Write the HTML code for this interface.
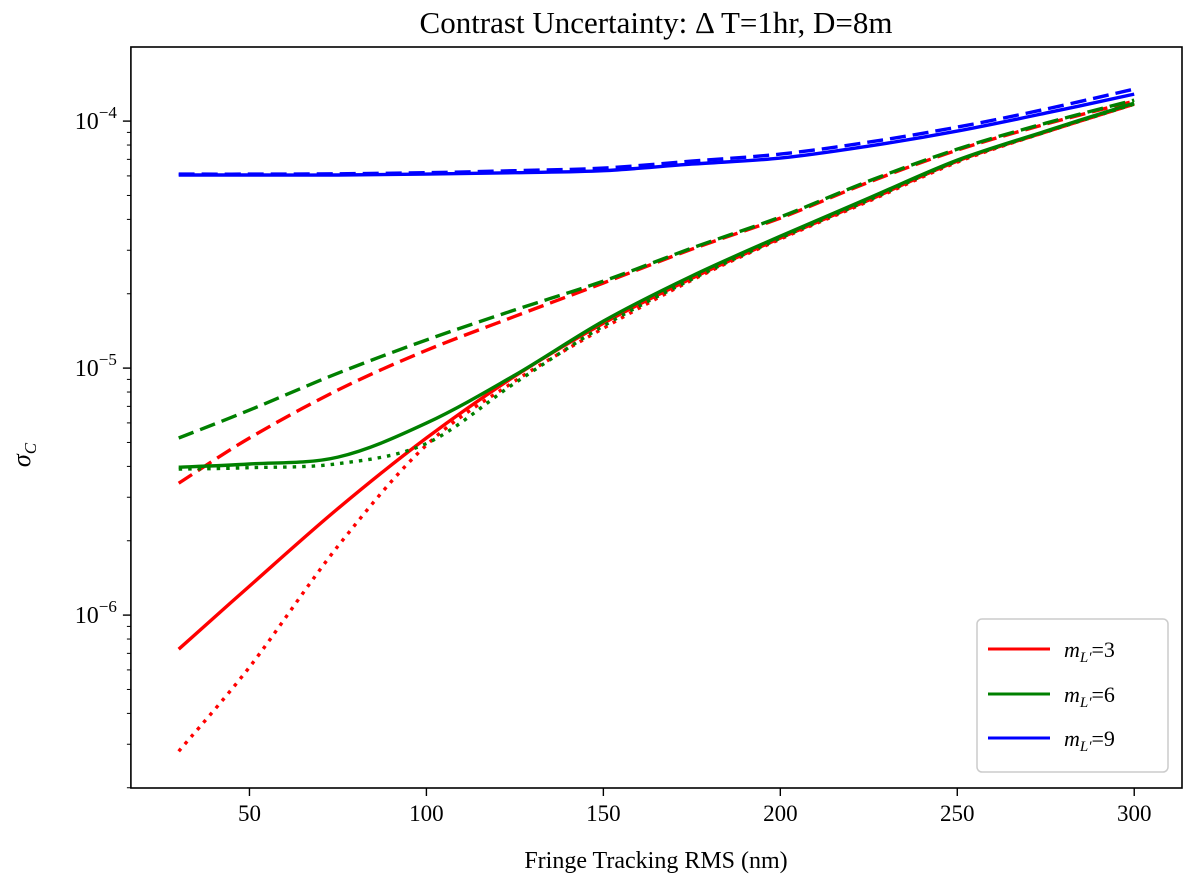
<!DOCTYPE html>
<html><head><meta charset="utf-8"><style>
body{margin:0;background:#fff}
svg text{font-family:"Liberation Serif",serif;fill:#000}
</style></head><body>
<svg id="chart" width="1200" height="887" viewBox="0 0 1200 887" xmlns="http://www.w3.org/2000/svg">
<text x="656" y="33" font-size="31" text-anchor="middle">Contrast Uncertainty: Δ T=1hr, D=8m</text>
<text x="656" y="868" font-size="24" text-anchor="middle">Fringe Tracking RMS (nm)</text>
<text transform="translate(30,455) rotate(-90)" font-size="26" font-style="italic" text-anchor="middle">σ<tspan font-size="17" dy="6">C</tspan></text>
<g id="grid"></g>
<g id="series"></g>
<rect x="130.9" y="47" width="1051.1" height="741" fill="none" stroke="#000" stroke-width="1.6"/>
<g id="axes"></g>
<g>
<rect x="977" y="619" width="191" height="153" rx="5" fill="#fff" stroke="#ccc" stroke-width="1.5"/>
<line x1="988" y1="649" x2="1050" y2="649" stroke="#ff0000" stroke-width="3"/>
<text x="1064" y="657" font-size="22"><tspan font-style="italic">m</tspan><tspan font-size="15" dy="5" font-style="italic">L′</tspan><tspan dy="-5">=3</tspan></text>
<line x1="988" y1="694" x2="1050" y2="694" stroke="#008000" stroke-width="3"/>
<text x="1064" y="702" font-size="22"><tspan font-style="italic">m</tspan><tspan font-size="15" dy="5" font-style="italic">L′</tspan><tspan dy="-5">=6</tspan></text>
<line x1="988" y1="738" x2="1050" y2="738" stroke="#0000ff" stroke-width="3"/>
<text x="1064" y="746" font-size="22"><tspan font-style="italic">m</tspan><tspan font-size="15" dy="5" font-style="italic">L′</tspan><tspan dy="-5">=9</tspan></text>
</g>
</svg>
<script>
const xValues = [30,50,75,100,125,150,175,200,225,250,275,300];
const red_solid  = [7.28e-7,1.31e-6,2.70e-6,5.21e-6,9.28e-6,1.52e-5,2.31e-5,3.36e-5,4.79e-5,6.89e-5,9.03e-5,1.172e-4];
const red_dotted = [2.81e-7,6.16e-7,1.90e-6,4.88e-6,8.86e-6,1.45e-5,2.27e-5,3.33e-5,4.74e-5,6.82e-5,9.03e-5,1.172e-4];
const red_dashed = [3.42e-6,5.21e-6,8.15e-6,1.18e-5,1.62e-5,2.21e-5,3.03e-5,4.05e-5,5.66e-5,7.63e-5,9.72e-5,1.205e-4];
const green_solid  = [3.97e-6,4.09e-6,4.36e-6,5.99e-6,9.37e-6,1.55e-5,2.36e-5,3.42e-5,4.88e-5,6.95e-5,9.11e-5,1.183e-4];
const green_dotted = [3.90e-6,3.95e-6,4.10e-6,4.95e-6,8.70e-6,1.48e-5,2.29e-5,3.36e-5,4.79e-5,6.89e-5,9.03e-5,1.172e-4];
const green_dashed = [5.21e-6,6.76e-6,9.54e-6,1.30e-5,1.72e-5,2.25e-5,3.06e-5,4.09e-5,5.72e-5,7.70e-5,9.81e-5,1.216e-4];
const blue_solid  = [6.05e-5,6.05e-5,6.05e-5,6.10e-5,6.18e-5,6.30e-5,6.70e-5,7.08e-5,7.92e-5,9.11e-5,1.077e-4,1.286e-4];
const blue_dashed = [6.10e-5,6.10e-5,6.12e-5,6.18e-5,6.30e-5,6.45e-5,6.89e-5,7.35e-5,8.22e-5,9.46e-5,1.118e-4,1.348e-4];
const xTicks = [50,100,150,200,250,300];
const yTickExps = [-6,-5,-4];

const NS="http://www.w3.org/2000/svg";
const X0=130.9, X1=1182, XMIN=16.5, XMAX=313.5;
const Y0=47, Y1=788, LMAX=-3.70, LMIN=-6.70;
function xs(v){return X0+(v-XMIN)/(XMAX-XMIN)*(X1-X0);}
function ys(v){return Y0+(LMAX-Math.log10(v))/(LMAX-LMIN)*(Y1-Y0);}
function mk(tag,attrs,parent){const e=document.createElementNS(NS,tag);for(const k in attrs)e.setAttribute(k,attrs[k]);parent.appendChild(e);return e;}

const axes=document.getElementById('axes');
xTicks.forEach(t=>{
  const l=mk('line',{x1:xs(t),x2:xs(t),y1:Y1,y2:Y1+8,stroke:'#000','stroke-width':1.4},axes);
  
  
  const tx=mk('text',{x:xs(t),y:Y1+33,'font-size':23,'text-anchor':'middle'},axes);
  tx.textContent=t;
  
  
});
for(let e=-7;e<=-4;e++){for(let m=2;m<=9;m++){const v=m*Math.pow(10,e);const y=ys(v);if(y<Y0||y>Y1)continue;
  const l=mk('line',{x1:X0-4,x2:X0,y1:y,y2:y,stroke:'#000','stroke-width':1},axes);
  
  }}
yTickExps.forEach(e=>{
  const y=ys(Math.pow(10,e));
  const l=mk('line',{x1:X0-8,x2:X0,y1:y,y2:y,stroke:'#000','stroke-width':1.4},axes);
  
  
  const tx=mk('text',{x:X0-14,y:y+8,'font-size':24,'text-anchor':'end'},axes);
  tx.innerHTML='10<tspan dy="-11" font-size="17">−'+(-e)+'</tspan>';
  
  
});

function pathFor(vals){
  const p=xValues.map((x,i)=>[xs(x),ys(vals[i])]);
  let d='M'+p[0][0].toFixed(1)+','+p[0][1].toFixed(1);
  for(let i=0;i<p.length-1;i++){
    const a=p[Math.max(i-1,0)],b=p[i],c=p[i+1],n=p[Math.min(i+2,p.length-1)];
    const c1=[b[0]+(c[0]-a[0])/6,b[1]+(c[1]-a[1])/6],c2=[c[0]-(n[0]-b[0])/6,c[1]-(n[1]-b[1])/6];
    d+=' C'+c1[0].toFixed(1)+','+c1[1].toFixed(1)+' '+c2[0].toFixed(1)+','+c2[1].toFixed(1)+' '+c[0].toFixed(1)+','+c[1].toFixed(1);
  }
  return d;
}
const sg=document.getElementById('series');
const defs=[
 ['red-dotted',red_dotted,'#ff0000','3.5 6'],
 ['red-dashed',red_dashed,'#ff0000','16 7'],
 ['red-solid',red_solid,'#ff0000',''],
 ['green-dotted',green_dotted,'#008000','3.5 6'],
 ['green-dashed',green_dashed,'#008000','16 7'],
 ['green-solid',green_solid,'#008000',''],
 ['blue-dashed',blue_dashed,'#0000ff','16 7'],
 ['blue-solid',blue_solid,'#0000ff','']
];
defs.forEach(([name,vals,col,dash])=>{
  const a={d:pathFor(vals),fill:'none',stroke:col,'stroke-width':3.4};
  if(dash)a['stroke-dasharray']=dash;
  const p=mk('path',a,sg);
  
  
});
</script>
</body></html>
